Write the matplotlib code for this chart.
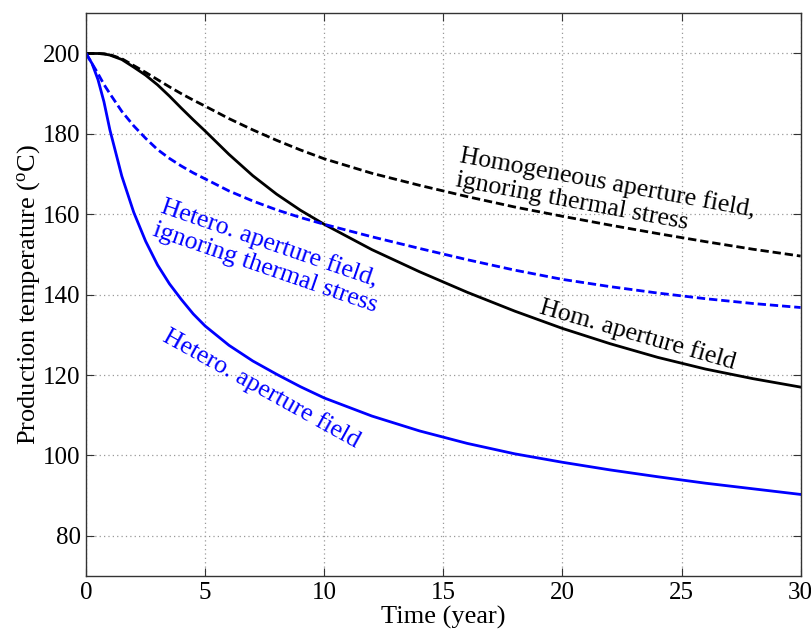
import matplotlib
matplotlib.use("Agg")
import matplotlib.pyplot as plt

plt.rcParams["font.family"] = "serif"
plt.rcParams["font.serif"] = ["Liberation Serif", "DejaVu Serif"]
plt.rcParams["mathtext.fontset"] = "custom"
plt.rcParams["mathtext.rm"] = "Liberation Serif"
plt.rcParams["mathtext.it"] = "Liberation Serif:italic"
plt.rcParams["font.size"] = 18

# production temperature vs time, four cases
years = [0, 0.25, 0.5, 0.75, 1, 1.5, 2, 2.5, 3, 3.5, 4, 4.5, 5, 6, 7, 8, 9, 10,
         12, 14, 16, 18, 20, 22, 24, 26, 28, 30]
hom_no_stress = [200, 200, 200, 199.9, 199.7, 198.7, 197, 195.3, 193.5, 191.7, 190,
                 188.4, 186.9, 183.8, 181, 178.4, 176, 173.8,
                 170.2, 167.2, 164.4, 161.8, 159.5, 157.3, 155.2, 153.2, 151.3, 149.6]
hom = [200, 200, 200, 199.9, 199.6, 198.5, 196.6, 194.6, 192.2, 189.4, 186.4,
       183.5, 180.7, 174.9, 169.6, 165.0, 161.0, 157.5,
       151.2, 145.7, 140.6, 135.9, 131.6, 127.8, 124.4, 121.5, 119.1, 117]
het_no_stress = [200, 197.5, 195, 192.3, 190, 185.6, 182.0, 178.9, 176.1, 173.9, 172,
                 170.3, 168.8, 165.8, 163.3, 161.1, 159.2, 157.5,
                 154.4, 151.5, 148.7, 146.1, 143.8, 142, 140.4, 139, 137.8, 136.8]
het = [200, 197.5, 193.5, 188, 181, 169.5, 160.5, 153.3, 147.4, 142.7, 138.8,
       135.2, 132.2, 127.4, 123.5, 120.2, 117.1, 114.3,
       109.8, 106.1, 103.0, 100.4, 98.3, 96.4, 94.7, 93.1, 91.7, 90.3]

blue = (0, 0, 1)
dash = (3, 1.4)

fig = plt.figure(figsize=(8.12, 6.33), dpi=100)
ax = fig.add_axes([0.106, 0.090, 0.880, 0.889])

ax.plot(years, hom_no_stress, color="k", lw=2, dashes=dash)
ax.plot(years, hom, color="k", lw=2)
ax.plot(years, het_no_stress, color=blue, lw=2, dashes=dash)
ax.plot(years, het, color=blue, lw=2)

ax.text(21.8, 164.8, "Homogeneous aperture field,\nignoring thermal stress",
        rotation=-10.5, rotation_mode="anchor", ha="center", va="center",
        multialignment="left", fontsize=18.5, color="k", linespacing=1.1)
ax.text(23.17, 130.0, "Hom. aperture field", rotation=-16,
        rotation_mode="anchor", ha="center", va="center", fontsize=18.5, color="k")
ax.text(7.7, 149.6, "Hetero. aperture field,\nignoring thermal stress",
        rotation=-19, rotation_mode="anchor", ha="center", va="center",
        multialignment="left", fontsize=18.5, color=blue, linespacing=1.1)
ax.text(7.35, 116.6, "Hetero. aperture field", rotation=-29,
        rotation_mode="anchor", ha="center", va="center", fontsize=18.5, color=blue)

ax.set_xlim(0, 30)
ax.set_ylim(70, 210)
ax.set_xticks([0, 5, 10, 15, 20, 25, 30])
ax.set_yticks([80, 100, 120, 140, 160, 180, 200])
ax.tick_params(direction="in", top=True, right=True, length=6, width=0.8,
               color="#333333", labelsize=18, pad=4)
for s in ax.spines.values():
    s.set_color("#333333")
    s.set_linewidth(1)
ax.grid(True, color="#999999", linestyle=(0, (1, 2.5)), linewidth=0.9)

ax.set_xlabel("Time (year)", fontsize=19, labelpad=2)
ax.set_ylabel("Production temperature ($^{\\rm o}$C)", fontsize=19, labelpad=1)

fig.savefig("out.png", dpi=100)
